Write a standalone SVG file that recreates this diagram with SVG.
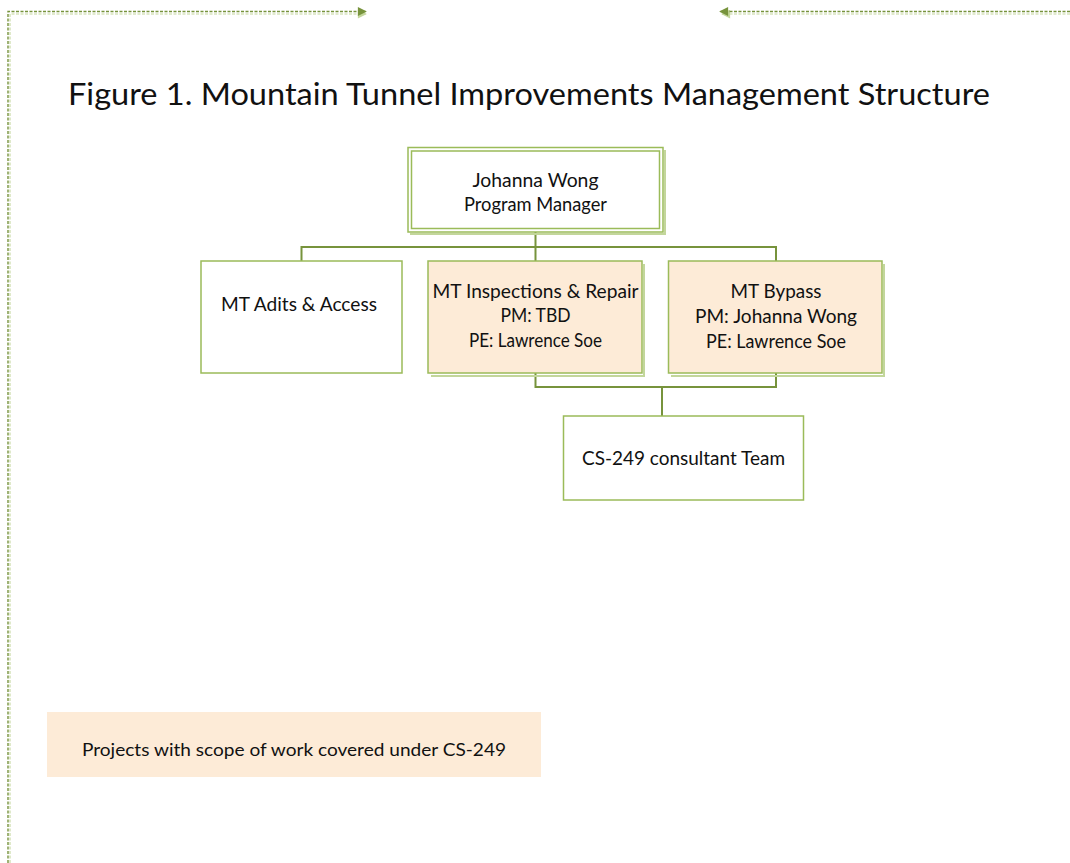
<svg xmlns="http://www.w3.org/2000/svg" width="1070" height="863" viewBox="0 0 1070 863">
<style>
.t{font-family:Lato,"Open Sans","Liberation Sans",sans-serif;fill:#111;}
.n{font-size:18.5px;text-anchor:middle;}
.box{fill:#fff;stroke:#9BBB59;stroke-width:1.5;}
.peach{fill:#FDEBD7;stroke:#9BBB59;stroke-width:1.5;}
.shadow{fill:none;stroke:#C3D69B;stroke-width:2;}
.con{fill:none;stroke:#77933C;stroke-width:2;}
.dash{fill:none;stroke:#77933C;stroke-width:1.4;stroke-dasharray:3 1.5;}
.dashs{fill:none;stroke:#D7E4BD;stroke-width:1.6;stroke-dasharray:3 1.5;}
</style>
<defs>
<marker id="ah" viewBox="0 0 10 10" refX="9" refY="5" markerWidth="12" markerHeight="9" markerUnits="userSpaceOnUse" orient="auto">
<path d="M0,0 L10,5 L0,10 Z" fill="#77933C"/>
</marker>
<marker id="ahs" viewBox="0 0 10 10" refX="9" refY="5" markerWidth="12" markerHeight="9" markerUnits="userSpaceOnUse" orient="auto">
<path d="M0,0 L10,5 L0,10 Z" fill="#C3D69B"/>
</marker>
</defs>
<rect width="1070" height="863" fill="#fff"/>
<g id="frame">
<path class="dashs" d="M10,863 V14 H366" marker-end="url(#ahs)"/>
<path class="dashs" d="M1070,14 H722" marker-end="url(#ahs)"/>
<path class="dash" d="M8,863 V11.5 H366" marker-end="url(#ah)"/>
<path class="dash" d="M1070,11.5 H720" marker-end="url(#ah)"/>
</g>
<text id="title" class="t" x="68" y="105" font-size="30" textLength="922" lengthAdjust="spacingAndGlyphs">Figure 1. Mountain Tunnel Improvements Management Structure</text>
<g id="connectors">
<path class="con" d="M535.5,232 V247 M301.5,247 H776.5 M301.5,246 V261 M535.5,246 V261 M776,246 V261"/>
<path class="con" d="M535.5,373 V387 H776 V373 M662,386 V416"/>
</g>
<g id="node-manager">
<path class="shadow" d="M665,150 V234 H410"/>
<rect class="box" x="408" y="147.5" width="255" height="84.5"/>
<rect class="box" x="411.5" y="151" width="248" height="77.5"/>
<text class="t n" x="535.5" y="187" textLength="126" lengthAdjust="spacingAndGlyphs">Johanna Wong</text>
<text class="t n" x="535.5" y="211" textLength="143" lengthAdjust="spacingAndGlyphs">Program Manager</text>
</g>
<g id="node-adits">
<rect class="box" x="201" y="261" width="201" height="112"/>
<text class="t n" x="299" y="310.5" textLength="156" lengthAdjust="spacingAndGlyphs">MT Adits &amp; Access</text>
</g>
<g id="node-inspections">
<path class="shadow" d="M644,264 V376 H431"/>
<rect class="peach" x="428" y="261" width="214" height="112"/>
<text class="t n" x="535.5" y="298" textLength="206" lengthAdjust="spacingAndGlyphs">MT Inspections &amp; Repair</text>
<text class="t n" x="535.5" y="322" textLength="70" lengthAdjust="spacingAndGlyphs">PM: TBD</text>
<text class="t n" x="535.5" y="347" textLength="133" lengthAdjust="spacingAndGlyphs">PE: Lawrence Soe</text>
</g>
<g id="node-bypass">
<path class="shadow" d="M884,264 V376 H671"/>
<rect class="peach" x="668.5" y="261" width="213.5" height="112"/>
<text class="t n" x="776" y="298" textLength="91" lengthAdjust="spacingAndGlyphs">MT Bypass</text>
<text class="t n" x="776" y="323" textLength="162" lengthAdjust="spacingAndGlyphs">PM: Johanna Wong</text>
<text class="t n" x="776" y="348" textLength="140" lengthAdjust="spacingAndGlyphs">PE: Lawrence Soe</text>
</g>
<g id="node-consultant">
<rect class="box" x="563.5" y="416" width="240" height="84"/>
<text class="t n" x="683.5" y="465" textLength="203" lengthAdjust="spacingAndGlyphs">CS-249 consultant Team</text>
</g>
<g id="legend">
<rect x="47" y="712" width="494" height="65" fill="#FDEBD7"/>
<text class="t" x="294" y="756" font-size="17" text-anchor="middle" textLength="424" lengthAdjust="spacingAndGlyphs">Projects with scope of work covered under CS-249</text>
</g>
</svg>
